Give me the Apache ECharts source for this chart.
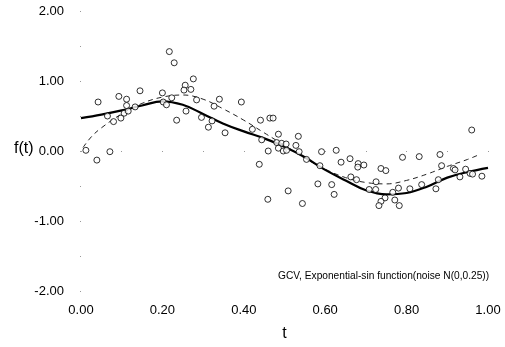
<!DOCTYPE html>
<html>
<head>
<meta charset="utf-8">
<script src="https://cdn.jsdelivr.net/npm/echarts@6/dist/echarts.min.js"></script>
<style>
  html, body { margin: 0; padding: 0; background: #fff; }
  #chart { width: 505px; height: 347px; }
</style>
</head>
<body>
<div id="chart"></div>
<script>
// Noisy observations (t, f)
const obsT = [0.012,0.039,0.071,0.042,0.065,0.080,0.098,0.106,0.116,0.112,0.133,0.093,0.112,0.145,0.200,0.202,0.210,0.223,0.217,0.229,
  0.235,0.256,0.276,0.253,0.270,0.284,0.258,0.296,0.313,0.322,0.327,0.340,0.354,0.394,0.421,0.441,0.464,0.472,0.444,0.485,
  0.534,0.460,0.481,0.493,0.504,0.485,0.497,0.505,0.528,0.536,0.438,0.509,0.459,0.544,0.554,0.591,0.587,0.627,0.639,0.661,
  0.681,0.680,0.695,0.582,0.616,0.622,0.663,0.677,0.725,0.724,0.708,0.737,0.749,0.747,0.737,0.732,0.766,0.771,0.782,0.780,
  0.808,0.837,0.872,0.878,0.790,0.831,0.882,0.886,0.915,0.919,0.945,0.956,0.962,0.931,0.985,0.960];
const obsF = [0.01,-0.13,-0.01,0.70,0.50,0.42,0.47,0.54,0.57,0.65,0.63,0.78,0.74,0.86,0.83,0.70,0.66,0.76,1.42,1.26,
  0.44,0.94,1.03,0.87,0.88,0.73,0.57,0.48,0.34,0.43,0.64,0.74,0.26,0.70,0.31,0.44,0.47,0.47,0.16,0.24,
  0.21,0.00,0.12,0.11,0.10,0.04,0.00,0.01,0.08,-0.01,-0.19,-0.57,-0.69,-0.75,-0.12,-0.01,-0.21,0.01,-0.16,-0.11,
  -0.18,-0.23,-0.20,-0.47,-0.48,-0.62,-0.37,-0.41,-0.44,-0.55,-0.55,-0.25,-0.28,-0.67,-0.72,-0.78,-0.59,-0.70,-0.78,-0.53,
  -0.54,-0.48,-0.54,-0.41,-0.09,-0.08,-0.05,-0.21,-0.25,-0.27,-0.26,-0.32,-0.33,-0.37,-0.36,0.30];

// GCV smoothing estimate (solid)
const fitT = [0,0.05,0.10,0.15,0.20,0.25,0.30,0.35,0.40,0.45,0.50,0.55,0.60,0.65,0.70,0.75,0.80,0.85,0.90,0.95,1.00];
const fitF = [0.47,0.52,0.58,0.65,0.71,0.66,0.53,0.39,0.28,0.18,0.06,-0.09,-0.27,-0.42,-0.56,-0.62,-0.60,-0.51,-0.38,-0.30,-0.24];

// Underlying exponential-sin function (dashed)
const trueT = [0.005,0.025,0.05,0.10,0.15,0.20,0.25,0.30,0.35,0.40,0.45,0.50,0.55,0.60,0.65,0.70,0.75,0.80,0.85,0.90,0.95,0.975];
const trueF = [0.05,0.20,0.33,0.53,0.68,0.77,0.80,0.74,0.60,0.44,0.26,0.08,-0.10,-0.26,-0.38,-0.45,-0.47,-0.42,-0.33,-0.22,-0.12,-0.06];

const note = 'GCV, Exponential-sin function(noise N(0,0.25))';

const zip = (a, b) => a.map((v, i) => [v, b[i]]);

const chart = echarts.init(document.getElementById('chart'), null, { renderer: 'canvas' });
const labelFont = { fontFamily: 'Liberation Sans, Arial, sans-serif', fontSize: 13, color: '#000' };

chart.setOption({
  animation: false,
  backgroundColor: '#fff',
  grid: { left: 81, right: 17, top: 11, bottom: 55, containLabel: false },
  xAxis: {
    type: 'value', min: 0, max: 1, interval: 0.2,
    name: 't', nameLocation: 'middle', nameGap: 35,
    nameTextStyle: { fontFamily: 'Liberation Sans, Arial, sans-serif', fontSize: 16, color: '#000' },
    axisLine: { show: false },
    axisTick: { show: true, length: 1, lineStyle: { color: '#999', width: 1 } },
    minorTick: { show: true, splitNumber: 2, length: 1, lineStyle: { color: '#999', width: 1 } },
    splitLine: { show: false },
    axisLabel: Object.assign({ margin: 13, formatter: v => v.toFixed(2) }, labelFont)
  },
  yAxis: {
    type: 'value', min: -2, max: 2, interval: 1,
    axisLine: { show: false },
    axisTick: { show: true, length: 1, lineStyle: { color: '#999', width: 1 } },
    minorTick: { show: true, splitNumber: 2, length: 1, lineStyle: { color: '#999', width: 1 } },
    splitLine: { show: false },
    axisLabel: Object.assign({ margin: 17, formatter: v => v.toFixed(2) }, labelFont)
  },
  graphic: [
    { type: 'text', left: 14, top: 141,
      style: { text: 'f(t)', font: '16px Liberation Sans, Arial, sans-serif', fill: '#000' } },
    { type: 'text', x: 278, y: 270, scaleX: 0.925,
      style: { text: note, font: '11px Liberation Sans, Arial, sans-serif', fill: '#000' } }
  ],
  series: [
    {
      type: 'line', data: zip(trueT, trueF), smooth: 0.4, symbol: 'none',
      lineStyle: { color: '#222', width: 1, type: [5, 4] }, z: 2
    },
    {
      type: 'line', data: zip(fitT, fitF), smooth: 0.4, symbol: 'none',
      lineStyle: { color: '#000', width: 2.2 }, z: 3
    },
    {
      type: 'scatter', data: zip(obsT, obsF), symbol: 'circle', symbolSize: 6,
      itemStyle: { color: '#fff', borderColor: '#000', borderWidth: 1 }, z: 4
    }
  ]
});
</script>
</body>
</html>
